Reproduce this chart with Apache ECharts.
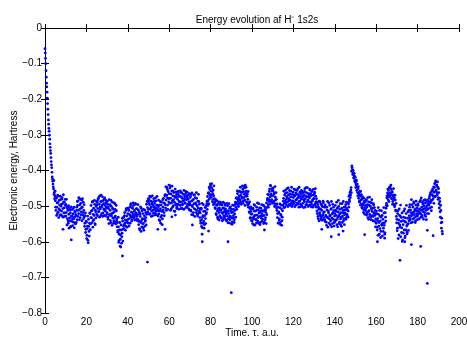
<!DOCTYPE html>
<html>
<head>
<meta charset="utf-8">
<script src="https://cdn.jsdelivr.net/npm/echarts@6/dist/echarts.min.js"></script>
<style>html,body{margin:0;padding:0;background:#fff;}#c{width:467px;height:338px;}</style>
</head>
<body>
<div id="c"></div>
<script>
// Sampling of the simulation time axis (a.u.) for the two interleaved sample sets
var timeStartA = 0;
var timeStartB = 0.125;
var timeStep = 0.25;

// Electronic energy (Hartree), set A
var energyA = [
-.058,-.085,-.12,-.155,-.18,-.212,-.243,-.27,-.29,-.312,-.335,-.352,-.375,-.392,-.418,-.43,-.446,-.428,-.462,-.471,
-.485,-.512,-.478,-.503,-.521,-.49,-.472,-.508,-.497,-.526,-.482,-.5,-.514,-.476,-.493,-.531,-.488,-.505,-.519,-.481,
-.495,-.518,-.502,-.535,-.512,-.548,-.523,-.506,-.541,-.519,-.557,-.528,-.51,-.536,-.522,-.545,-.503,-.531,-.517,-.55,
-.527,-.512,-.538,-.498,-.485,-.521,-.478,-.509,-.532,-.492,-.516,-.483,-.503,-.525,-.489,-.512,-.53,-.548,-.519,-.565,
-.545,-.582,-.556,-.596,-.537,-.571,-.548,-.521,-.55,-.498,-.533,-.512,-.487,-.541,-.506,-.526,-.495,-.552,-.516,-.501,
-.523,-.489,-.507,-.478,-.515,-.495,-.471,-.508,-.526,-.486,-.502,-.474,-.519,-.493,-.481,-.511,-.498,-.528,-.484,-.506,
-.518,-.495,-.537,-.507,-.482,-.526,-.512,-.547,-.5,-.521,-.489,-.533,-.509,-.541,-.516,-.493,-.528,-.55,-.513,-.535,
-.546,-.573,-.558,-.597,-.567,-.612,-.581,-.553,-.604,-.576,-.542,-.565,-.531,-.552,-.518,-.539,-.556,-.507,-.528,-.545,
-.521,-.548,-.512,-.535,-.503,-.527,-.493,-.517,-.538,-.506,-.522,-.498,-.531,-.511,-.526,-.495,-.519,-.536,-.508,-.524,
-.538,-.552,-.517,-.566,-.529,-.546,-.506,-.558,-.535,-.521,-.549,-.568,-.527,-.511,-.54,-.532,-.495,-.518,-.504,-.487,
-.509,-.482,-.496,-.521,-.475,-.503,-.514,-.488,-.527,-.498,-.479,-.51,-.492,-.519,-.506,-.485,-.524,-.497,-.513,-.502,
-.522,-.497,-.541,-.508,-.531,-.489,-.515,-.536,-.503,-.478,-.518,-.492,-.468,-.505,-.483,-.447,-.476,-.497,-.459,-.488,
-.465,-.492,-.443,-.478,-.508,-.457,-.485,-.471,-.499,-.462,-.489,-.515,-.476,-.494,-.468,-.503,-.481,-.459,-.496,-.487,
-.472,-.498,-.461,-.489,-.506,-.478,-.494,-.467,-.485,-.508,-.473,-.491,-.459,-.482,-.502,-.476,-.495,-.469,-.488,-.511,
-.497,-.472,-.514,-.486,-.463,-.502,-.525,-.481,-.493,-.468,-.509,-.491,-.518,-.478,-.499,-.528,-.505,-.487,-.515,-.532,
-.519,-.548,-.506,-.538,-.561,-.527,-.496,-.543,-.552,-.514,-.535,-.501,-.518,-.487,-.473,-.498,-.462,-.481,-.452,-.476,
-.443,-.468,-.437,-.459,-.482,-.455,-.471,-.493,-.489,-.507,-.482,-.524,-.498,-.513,-.536,-.494,-.518,-.505,-.527,-.489,
-.511,-.532,-.497,-.52,-.538,-.505,-.517,-.493,-.529,-.508,-.522,-.541,-.514,-.499,-.536,-.521,-.547,-.506,-.528,-.515,
-.532,-.509,-.544,-.517,-.527,-.498,-.538,-.512,-.489,-.503,-.476,-.494,-.465,-.487,-.501,-.472,-.458,-.483,-.469,-.495,
-.461,-.478,-.452,-.486,-.445,-.467,-.483,-.441,-.472,-.458,-.49,-.466,-.481,-.503,-.494,-.518,-.507,-.532,-.515,-.541,
-.522,-.549,-.508,-.531,-.496,-.527,-.553,-.514,-.538,-.503,-.525,-.542,-.511,-.493,-.529,-.517,-.546,-.506,-.534,-.521,
-.513,-.537,-.498,-.526,-.545,-.509,-.532,-.518,-.491,-.504,-.478,-.496,-.468,-.487,-.452,-.474,-.443,-.466,-.482,-.457,
-.471,-.449,-.486,-.462,-.493,-.475,-.498,-.481,-.512,-.532,-.503,-.547,-.519,-.536,-.494,-.552,-.526,-.508,-.541,-.513,
-.497,-.478,-.504,-.469,-.486,-.455,-.491,-.473,-.462,-.488,-.449,-.479,-.495,-.466,-.483,-.458,-.474,-.501,-.467,-.485,
-.476,-.452,-.489,-.471,-.497,-.463,-.482,-.456,-.478,-.494,-.468,-.447,-.486,-.473,-.502,-.465,-.481,-.459,-.492,-.474,
-.468,-.487,-.451,-.479,-.496,-.462,-.474,-.448,-.483,-.499,-.466,-.477,-.455,-.489,-.471,-.494,-.459,-.482,-.469,-.498,
-.479,-.461,-.493,-.472,-.503,-.488,-.521,-.497,-.535,-.509,-.486,-.518,-.527,-.494,-.539,-.512,-.501,-.524,-.491,-.532,
-.516,-.543,-.503,-.529,-.554,-.511,-.487,-.533,-.519,-.548,-.498,-.526,-.541,-.507,-.558,-.522,-.495,-.537,-.513,-.546,
-.521,-.498,-.539,-.515,-.552,-.506,-.531,-.484,-.527,-.545,-.509,-.536,-.518,-.557,-.493,-.528,-.512,-.541,-.503,-.524,
-.519,-.496,-.532,-.508,-.527,-.491,-.514,-.503,-.482,-.468,-.476,-.455,-.462,-.387,-.398,-.405,-.412,-.42,-.416,-.428,
-.434,-.441,-.429,-.446,-.462,-.451,-.478,-.467,-.489,-.472,-.459,-.495,-.481,-.506,-.474,-.492,-.511,-.486,-.523,-.498,
-.507,-.482,-.519,-.496,-.532,-.488,-.513,-.475,-.527,-.501,-.538,-.491,-.515,-.506,-.529,-.497,-.521,-.543,-.512,-.536,
-.548,-.521,-.567,-.535,-.504,-.556,-.579,-.528,-.542,-.571,-.513,-.553,-.584,-.537,-.562,-.519,-.547,-.575,-.531,-.506,
-.492,-.471,-.463,-.482,-.456,-.474,-.448,-.445,-.466,-.452,-.479,-.461,-.487,-.469,-.495,-.476,-.498,-.483,-.514,-.529,
-.537,-.562,-.513,-.548,-.581,-.526,-.559,-.497,-.543,-.574,-.519,-.595,-.552,-.531,-.567,-.508,-.584,-.545,-.521,-.556,
-.573,-.534,-.549,-.512,-.527,-.496,-.538,-.518,-.482,-.524,-.545,-.503,-.517,-.491,-.532,-.509,-.541,-.486,-.521,-.513,
-.527,-.498,-.515,-.536,-.488,-.509,-.522,-.477,-.503,-.531,-.494,-.516,-.484,-.507,-.525,-.491,-.512,-.538,-.499,-.483,
-.508,-.486,-.497,-.473,-.491,-.462,-.484,-.503,-.468,-.452,-.479,-.446,-.461,-.437,-.472,-.429,-.455,-.441,-.468,-.447,
-.476,-.462,-.505,-.487,-.531,-.512,-.562,-.545,-.578
];

// Electronic energy (Hartree), set B (between the A samples)
var energyB = [
-.07,-.1,-.138,-.165,-.197,-.228,-.258,-.282,-.301,-.325,-.344,-.364,-.384,-.405,-.424,-.438,-.452,-.467,-.479,-.458,
-.503,-.475,-.526,-.491,-.469,-.517,-.532,-.484,-.511,-.472,-.524,-.495,-.48,-.528,-.507,-.468,-.519,-.489,-.529,-.498,
-.528,-.481,-.553,-.506,-.541,-.499,-.562,-.533,-.511,-.558,-.502,-.543,-.529,-.555,-.507,-.536,-.561,-.514,-.548,-.524,
-.546,-.503,-.487,-.529,-.512,-.476,-.538,-.497,-.481,-.524,-.505,-.541,-.479,-.518,-.535,-.496,-.557,-.527,-.574,-.542,
-.591,-.563,-.528,-.603,-.557,-.584,-.519,-.566,-.532,-.514,-.547,-.489,-.559,-.523,-.538,-.484,-.549,-.511,-.533,-.487,
-.496,-.527,-.482,-.516,-.474,-.531,-.503,-.488,-.469,-.521,-.497,-.529,-.485,-.508,-.526,-.477,-.514,-.491,-.503,-.523,
-.487,-.531,-.502,-.549,-.523,-.496,-.541,-.484,-.527,-.554,-.506,-.519,-.548,-.491,-.532,-.509,-.545,-.498,-.539,-.558,
-.569,-.531,-.602,-.579,-.546,-.593,-.615,-.567,-.586,-.534,-.598,-.556,-.563,-.527,-.548,-.568,-.512,-.541,-.559,-.506,
-.537,-.509,-.556,-.524,-.548,-.497,-.531,-.542,-.504,-.528,-.491,-.533,-.515,-.539,-.492,-.521,-.507,-.529,-.541,-.496,
-.511,-.543,-.563,-.522,-.502,-.571,-.541,-.513,-.549,-.562,-.509,-.536,-.557,-.543,-.518,-.553,-.523,-.487,-.516,-.479,
-.491,-.523,-.472,-.508,-.486,-.529,-.494,-.471,-.511,-.519,-.503,-.486,-.525,-.477,-.514,-.498,-.473,-.509,-.528,-.483,
-.539,-.514,-.487,-.548,-.497,-.526,-.552,-.482,-.511,-.491,-.527,-.471,-.496,-.446,-.512,-.469,-.453,-.509,-.479,-.441,
-.478,-.449,-.512,-.466,-.491,-.444,-.503,-.458,-.482,-.514,-.473,-.452,-.497,-.461,-.507,-.475,-.495,-.466,-.509,-.472,
-.488,-.457,-.507,-.474,-.463,-.497,-.485,-.509,-.456,-.479,-.492,-.466,-.504,-.473,-.461,-.499,-.481,-.507,-.465,-.492,
-.476,-.511,-.466,-.524,-.498,-.483,-.518,-.469,-.507,-.529,-.476,-.495,-.462,-.512,-.523,-.486,-.467,-.519,-.494,-.508,
-.541,-.509,-.557,-.492,-.531,-.548,-.515,-.562,-.527,-.504,-.549,-.522,-.494,-.509,-.485,-.464,-.493,-.447,-.468,-.438,
-.457,-.475,-.449,-.488,-.466,-.496,-.443,-.479,-.504,-.486,-.521,-.496,-.485,-.531,-.507,-.488,-.539,-.512,-.496,-.532,
-.493,-.518,-.541,-.506,-.489,-.527,-.534,-.512,-.498,-.539,-.517,-.492,-.528,-.547,-.513,-.493,-.531,-.538,-.502,-.549,
-.518,-.551,-.497,-.534,-.509,-.546,-.522,-.495,-.531,-.478,-.509,-.457,-.481,-.496,-.459,-.477,-.491,-.447,-.489,-.462,
-.474,-.443,-.492,-.459,-.476,-.449,-.498,-.463,-.447,-.488,-.472,-.497,-.459,-.491,-.516,-.488,-.534,-.502,-.523,-.508,
-.541,-.506,-.535,-.553,-.514,-.498,-.537,-.525,-.547,-.511,-.491,-.532,-.548,-.519,-.505,-.552,-.514,-.527,-.496,-.543,
-.528,-.497,-.549,-.515,-.502,-.538,-.511,-.549,-.524,-.483,-.467,-.503,-.481,-.459,-.495,-.442,-.487,-.471,-.451,-.492,
-.456,-.488,-.467,-.501,-.445,-.483,-.462,-.505,-.494,-.521,-.548,-.516,-.539,-.504,-.546,-.523,-.497,-.554,-.531,-.498,
-.486,-.458,-.492,-.503,-.464,-.482,-.497,-.451,-.478,-.501,-.469,-.485,-.456,-.498,-.474,-.492,-.447,-.487,-.496,-.461,
-.491,-.469,-.502,-.454,-.483,-.497,-.467,-.491,-.451,-.475,-.503,-.487,-.461,-.495,-.478,-.456,-.499,-.472,-.462,-.504,
-.482,-.459,-.503,-.471,-.448,-.488,-.496,-.464,-.501,-.473,-.488,-.452,-.497,-.465,-.502,-.457,-.486,-.503,-.453,-.478,
-.466,-.497,-.451,-.488,-.479,-.514,-.491,-.529,-.503,-.541,-.522,-.488,-.508,-.534,-.497,-.527,-.539,-.486,-.518,-.503,
-.538,-.497,-.526,-.545,-.503,-.531,-.559,-.514,-.491,-.536,-.527,-.553,-.509,-.487,-.533,-.549,-.518,-.503,-.556,-.528,
-.543,-.511,-.526,-.489,-.537,-.558,-.516,-.501,-.549,-.522,-.493,-.553,-.531,-.506,-.546,-.519,-.487,-.535,-.552,-.511,
-.503,-.537,-.489,-.523,-.511,-.531,-.494,-.472,-.487,-.461,-.469,-.448,-.402,-.392,-.411,-.4,-.421,-.408,-.431,-.419,
-.448,-.427,-.456,-.438,-.471,-.445,-.463,-.486,-.458,-.497,-.483,-.468,-.503,-.476,-.497,-.518,-.478,-.504,-.489,-.513,
-.484,-.525,-.502,-.476,-.516,-.537,-.497,-.523,-.489,-.531,-.508,-.482,-.527,-.541,-.493,-.518,-.504,-.526,-.558,-.521,
-.514,-.559,-.541,-.582,-.523,-.546,-.512,-.563,-.588,-.531,-.553,-.526,-.548,-.571,-.504,-.554,-.579,-.518,-.542,-.498,
-.477,-.499,-.452,-.468,-.487,-.449,-.463,-.471,-.441,-.478,-.459,-.495,-.472,-.451,-.481,-.502,-.469,-.511,-.492,-.547,
-.569,-.521,-.591,-.539,-.508,-.553,-.528,-.586,-.532,-.561,-.599,-.541,-.576,-.514,-.542,-.589,-.533,-.567,-.498,-.578,
-.552,-.516,-.568,-.541,-.503,-.533,-.511,-.547,-.527,-.496,-.519,-.536,-.488,-.524,-.513,-.546,-.497,-.529,-.505,-.538,
-.494,-.521,-.536,-.508,-.519,-.484,-.531,-.512,-.526,-.489,-.509,-.537,-.499,-.518,-.482,-.529,-.504,-.487,-.521,-.509,
-.493,-.521,-.478,-.505,-.467,-.489,-.513,-.457,-.483,-.471,-.459,-.492,-.448,-.474,-.433,-.458,-.442,-.463,-.432,-.481,
-.451,-.493,-.478,-.516,-.498,-.547,-.534,-.571
];

// Isolated low points
var outlierTime = [8.7,12.7,37.4,49.5,54.5,58,61.3,63,71.2,75.9,76,79,88.4,90,106,133.7,138.3,141.9,144,154.4,160.6,164.1,171.5,173.8,177,181.5,184.7,184.7,187.5];
var outlierEnergy = [-.565,-.595,-.64,-.657,-.565,-.565,-.53,-.525,-.553,-.579,-.6,-.57,-.6,-.743,-.567,-.565,-.586,-.58,-.57,-.58,-.6,-.59,-.652,-.6,-.608,-.613,-.568,-.717,-.583];

var xTicks = [0,20,40,60,80,100,120,140,160,180,200];
var yTicks = [0,-0.1,-0.2,-0.3,-0.4,-0.5,-0.6,-0.7,-0.8];

var pts = [];
for (var i = 0; i < energyA.length; i++) pts.push([timeStartA + i * timeStep, energyA[i]]);
for (var k = 0; k < energyB.length; k++) pts.push([timeStartB + k * timeStep, energyB[k]]);
for (var j = 0; j < outlierTime.length; j++) pts.push([outlierTime[j], outlierEnergy[j]]);

var FONT = 'Liberation Sans, Arial, Helvetica, sans-serif';
function fmtY(v){ return v === 0 ? '0' : String(v).replace('-', '\u2212'); }

var chart = echarts.init(document.getElementById('c'), null, {renderer: 'canvas'});
var axisLine = {show: true, lineStyle: {color: '#000', width: 1}};
var tick = {show: true, inside: true, length: 4, lineStyle: {color: '#000', width: 1}};
chart.setOption({
  animation: false,
  backgroundColor: '#fff',
  title: {
    text: 'Energy evolution af H\u207B 1s2s',
    left: 252, top: 10, textAlign: 'center',
    textStyle: {fontFamily: FONT, fontSize: 10, fontWeight: 'normal', color: '#000'}
  },
  grid: {left: 45, right: 8, top: 28, bottom: 25, containLabel: false, outerBoundsMode: 'none'},
  xAxis: [{
    type: 'value', min: xTicks[0], max: xTicks[xTicks.length-1], interval: 20,
    position: 'bottom',
    name: 'Time. \u03C4. a.u.', nameLocation: 'middle', nameGap: 15, nameMoveOverlap: false,
    nameTextStyle: {fontFamily: FONT, fontSize: 10, color: '#000'},
    axisLine: axisLine, axisTick: tick, splitLine: {show: false},
    axisLabel: {fontFamily: FONT, fontSize: 10, color: '#000', margin: 4}
  },{
    type: 'value', min: xTicks[0], max: xTicks[xTicks.length-1], interval: 20,
    position: 'top', axisLine: axisLine, axisTick: tick, splitLine: {show: false},
    axisLabel: {show: false}
  }],
  yAxis: [{
    type: 'value', min: yTicks[yTicks.length-1], max: yTicks[0], interval: 0.1,
    position: 'left',
    name: 'Electronic energy, Hartress', nameLocation: 'middle', nameGap: 26, nameMoveOverlap: false,
    nameTextStyle: {fontFamily: FONT, fontSize: 10, color: '#000'},
    axisLine: axisLine, axisTick: tick, splitLine: {show: false},
    axisLabel: {fontFamily: FONT, fontSize: 10, color: '#000', margin: 3, formatter: fmtY}
  },{
    type: 'value', min: yTicks[yTicks.length-1], max: yTicks[0], interval: 0.1,
    position: 'right', axisLine: axisLine, axisTick: tick, splitLine: {show: false},
    axisLabel: {show: false}
  }],
  series: [{
    type: 'scatter', xAxisIndex: 0, yAxisIndex: 0,
    data: pts, symbol: 'circle', symbolSize: 2.8,
    itemStyle: {color: '#0000ff', opacity: 1}
  }]
});
</script>
</body>
</html>
